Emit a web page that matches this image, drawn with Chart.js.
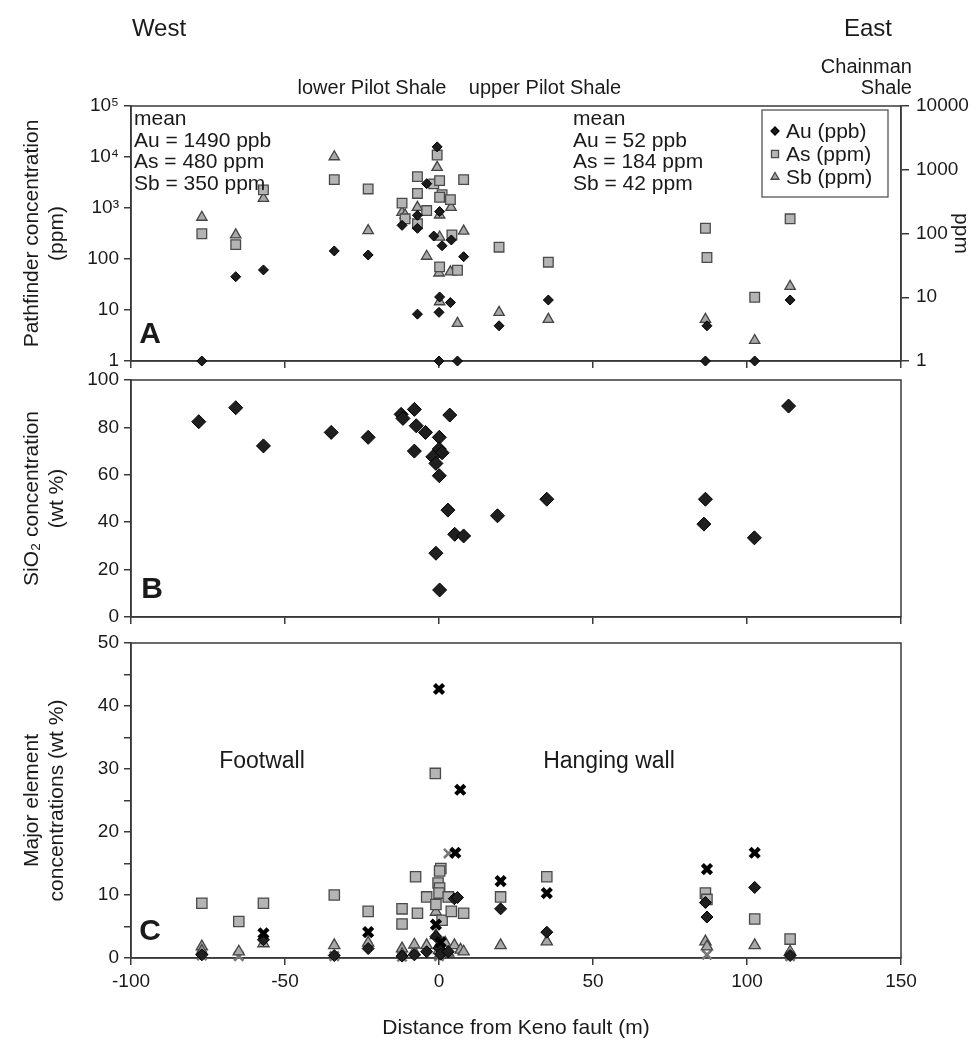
<!DOCTYPE html>
<html>
<head>
<meta charset="utf-8">
<title>Keno fault geochemistry profile</title>
<script src="https://cdn.jsdelivr.net/npm/chart.js@4.4.1/dist/chart.umd.min.js"></script>
<style>
  body { margin: 0; background: #fff; }
  #page { position: relative; width: 977px; height: 1050px; overflow: hidden;
          font-family: "Liberation Sans", Arial, sans-serif; color: #1a1a1a; }
  canvas { position: absolute; left: 0; }
  .t { position: absolute; white-space: nowrap; line-height: 1; }
  .c { transform: translate(-50%, -50%); }
  .r { transform: translateY(-50%); text-align: right; }
  .panel-tag { font-weight: bold; font-size: 30px; }
</style>
</head>
<body>
<div id="page">
  <canvas id="chartA" width="977" height="380" style="top:0"></canvas>
  <canvas id="chartB" width="977" height="279" style="top:361px"></canvas>
  <canvas id="chartC" width="977" height="433" style="top:617px"></canvas>

  <div class="t c" style="left:159px;top:28px;font-size:24px">West</div>
  <div class="t c" style="left:868px;top:28px;font-size:24px">East</div>
  <div class="t c" style="left:372px;top:87px;font-size:20px">lower Pilot Shale</div>
  <div class="t c" style="left:545px;top:87px;font-size:20px">upper Pilot Shale</div>
  <div class="t r" style="right:65px;top:66px;font-size:20px">Chainman</div>
  <div class="t r" style="right:65px;top:87px;font-size:20px">Shale</div>

  <div class="t" style="left:134px;top:107px;font-size:21px;line-height:21.5px">mean<br>Au = 1490 ppb<br>As = 480 ppm<br>Sb = 350 ppm</div>
  <div class="t" style="left:573px;top:107px;font-size:21px;line-height:21.5px">mean<br>Au = 52 ppb<br>As = 184 ppm<br>Sb = 42 ppm</div>

  <div class="t c panel-tag" style="left:150px;top:333px">A</div>
  <div class="t c panel-tag" style="left:152px;top:588px">B</div>
  <div class="t c panel-tag" style="left:150px;top:930px">C</div>

  <div class="t c" style="left:262px;top:760px;font-size:23px">Footwall</div>
  <div class="t c" style="left:609px;top:760px;font-size:23px">Hanging wall</div>
</div>

<script>
// distance from the Keno fault (m), shared by all three panels
const distanceTicks = [-100, -50, 0, 50, 100, 150];

// panel A: pathfinder elements
const auDist = [-77, -66, -57, -34, -23, -12, -7, -7, -7, -4, -0.6, 0.2, -1.7, 1, 0.2, 0, 3.7, 4, 8, 0, 6, 19.5, 35.5, 87, 86.5, 102.5, 114];
const auPpb  = [1, 45, 61, 144, 120, 457, 720, 400, 8.3, 3000, 15800, 850, 282, 182, 18, 9, 14, 236, 111, 1, 1, 4.9, 15.7, 4.9, 1, 1, 15.7];
const asDist = [-77, -66, -57, -34, -23, -12, -11, -7, -7, -7, -4, -1.7, -0.6, 0.2, 1, 0.2, 3.7, 4.2, 0.2, 6, 8, 19.5, 35.5, 86.5, 87, 102.5, 114];
const asPpm  = [99, 67, 483, 700, 500, 300, 170, 780, 425, 142, 229, 600, 1700, 675, 405, 370, 340, 95, 30, 26.5, 700, 61, 35.5, 121, 42, 10, 170];
const sbDist = [-77, -66, -57, -34, -23, -12, -11, -7, -4, -0.6, 0.2, 0.2, 0, 3.7, 0.2, 6, 3.9, 8, 19.5, 35.5, 86.5, 102.5, 114];
const sbPpm  = [180, 95, 355, 1600, 111, 215, 195, 257, 44, 1090, 195, 88, 24, 25, 8.5, 3.9, 257, 109, 5.8, 4.5, 4.5, 2.1, 14.8];
const leftLogLabels  = ['1', '10', '100', '10³', '10⁴', '10⁵'];
const rightLogLabels = ['1', '10', '100', '1000', '10000'];

// panel B: silica
const siDist = [-78, -66, -57, -35, -23, -12.3, -11.7, -8, -7.4, -8, -4.4, 0.1, 0.1, 1, -2, -1, 0.1, 3.5, 2.9, 5.1, 8, -1, 0.2, 19, 35, 86.5, 86, 102.4, 113.5];
const siWt   = [82.4, 88.3, 72.2, 77.9, 75.8, 85.5, 83.8, 87.6, 80.7, 70, 77.9, 75.8, 70.9, 69.3, 67.6, 64.8, 59.6, 85.2, 45.1, 34.9, 34.2, 26.9, 11.4, 42.7, 49.7, 49.7, 39.2, 33.4, 89];

// panel C: major elements
const mgDist = [-77, -57, -34, -23, -12, -8, -4, -1, 0, 0.5, 3, 5, 6, 20, 35, 86.5, 87, 102.5, 114];
const mgWt   = [0.5, 2.9, 0.4, 1.5, 0.3, 0.5, 1.0, 3.4, 1.6, 0.6, 1.0, 9.4, 9.6, 7.8, 4.1, 8.8, 6.5, 11.2, 0.4];
const alDist = [-77, -65, -57, -34, -23, -12, -12, -7.6, -7, -4, -1.2, 0.6, 0.2, -0.3, 0.2, 0, -1, 1, 3, 4, 8, 20, 35, 86.5, 87, 102.5, 114];
const alWt   = [8.7, 5.8, 8.7, 10, 7.4, 7.8, 5.4, 12.9, 7.1, 9.7, 29.3, 14.2, 13.8, 11.9, 11.1, 10.3, 8.5, 6.0, 9.7, 7.4, 7.1, 9.7, 12.9, 10.3, 9.3, 6.2, 3.0];
const kDist  = [-77, -77, -65, -57, -34, -23, -12, -12, -8, -8, -4, -1, -1, 0, 0, 0.5, 2, 3, 5, 7, 8, 20, 35, 86.5, 87, 102.5, 114];
const kWt    = [1.8, 1.1, 1.0, 2.3, 2.0, 2.4, 1.5, 0.6, 1.0, 2.1, 2.0, 7.3, 3.6, 2.0, 1.2, 0.5, 2.4, 0.8, 2.0, 1.3, 1.0, 2.0, 2.6, 2.6, 1.8, 2.0, 1.0];
const caDist = [-57, -23, 0, -1, 0.5, 5.3, 6.9, 20, 35, 87, 102.5];
const caWt   = [3.9, 4.1, 42.7, 5.3, 2.5, 16.7, 26.7, 12.2, 10.3, 14.1, 16.7];
const grayCrossDist = [-77, -65, -34, -12, 0, 0, 3.1, 87, 114];
const grayCrossWt   = [0.4, 0.3, 0.3, 0.2, 0.3, 0.8, 16.6, 0.5, 0.3];

const axisColor = '#3a3a3a';
const textColor = '#1a1a1a';
const fontFamily = '"Liberation Sans", Arial, sans-serif';
Chart.defaults.font.family = fontFamily;
Chart.defaults.color = textColor;

const pts = (xs, ys) => xs.map((x, i) => ({ x: x, y: ys[i] }));
const tickFont = { size: 19 };
const titleFont = { size: 21 };

// box round each plot area
const frame = {
  id: 'frame',
  beforeDatasetsDraw(chart) {
    const { ctx, chartArea: a } = chart;
    ctx.save();
    ctx.strokeStyle = axisColor;
    ctx.lineWidth = 1.5;
    ctx.strokeRect(a.left, a.top, a.width, a.height);
    ctx.restore();
  }
};

// boxed legend placed inside the plot
function boxLegend(box, rows) {
  return {
    id: 'boxLegend',
    afterDatasetsDraw(chart) {
      const ctx = chart.ctx;
      ctx.save();
      ctx.fillStyle = '#fff';
      ctx.fillRect(box.x, box.y, box.w, box.h);
      ctx.strokeStyle = '#555';
      ctx.lineWidth = 1.3;
      ctx.strokeRect(box.x, box.y, box.w, box.h);
      ctx.font = box.font;
      ctx.textBaseline = 'middle';
      rows.forEach((r, i) => {
        const ds = chart.data.datasets[r.ds];
        const y = box.rowY[i];
        ctx.fillStyle = ds.backgroundColor;
        ctx.strokeStyle = ds.borderColor;
        Chart.helpers.drawPoint(ctx, {
          pointStyle: ds.pointStyle, radius: r.radius,
          borderWidth: r.borderWidth, rotation: 0
        }, box.symX, y);
        ctx.fillStyle = textColor;
        ctx.fillText(ds.label, box.textX, y + 1);
      });
      ctx.restore();
    }
  };
}

function distanceAxis(height, extra) {
  return Object.assign({
    type: 'linear', min: -100, max: 150,
    afterBuildTicks: s => { s.ticks = distanceTicks.map(v => ({ value: v })); },
    afterFit: s => { s.height = height; },
    border: { color: axisColor, width: 1.5 },
    grid: { drawOnChartArea: false, tickLength: 7, color: axisColor, lineWidth: 1.5 },
    ticks: { display: false }
  }, extra || {});
}

function leftAxis(extra) {
  return Object.assign({
    position: 'left',
    afterFit: s => { s.width = 131; },
    border: { color: axisColor, width: 1.5 },
    grid: { drawOnChartArea: false, tickLength: 7, color: axisColor, lineWidth: 1.5 }
  }, extra);
}

const common = {
  responsive: false,
  animation: false,
  events: [],
  plugins: { legend: { display: false }, tooltip: { enabled: false } }
};

// A: Au (ppb) on the left log axis, As and Sb (ppm) on the right log axis
new Chart(document.getElementById('chartA'), {
  type: 'scatter',
  data: {
    datasets: [
      { label: 'Au (ppb)', data: pts(auDist, auPpb), yAxisID: 'y',
        pointStyle: 'rectRot', pointRadius: 5, backgroundColor: '#1c1c1c', borderColor: '#000', borderWidth: 1, clip: false },
      { label: 'As (ppm)', data: pts(asDist, asPpm), yAxisID: 'y2',
        pointStyle: 'rect', pointRadius: 6.8, backgroundColor: '#b4b4b4', borderColor: '#4a4a4a', borderWidth: 1.3, clip: false },
      { label: 'Sb (ppm)', data: pts(sbDist, sbPpm), yAxisID: 'y2',
        pointStyle: 'triangle', pointRadius: 6, backgroundColor: '#a8a8a8', borderColor: '#444', borderWidth: 1.3, clip: false }
    ]
  },
  options: Object.assign({}, common, {
    layout: { padding: { top: 106, left: 0, right: 0, bottom: 0 } },
    scales: {
      x: distanceAxis(19),
      y: leftAxis({
        type: 'logarithmic', min: 1, max: 100000,
        afterBuildTicks: s => { s.ticks = leftLogLabels.map((_, i) => ({ value: Math.pow(10, i) })); },
        ticks: { font: tickFont, color: textColor, padding: 5, autoSkip: false,
                 callback: v => leftLogLabels[Math.round(Math.log10(v))] },
        title: { display: true, text: ['Pathfinder concentration', '(ppm)'], font: titleFont,
                 color: textColor, padding: { top: 19.4, bottom: 0 } }
      }),
      y2: {
        type: 'logarithmic', position: 'right', min: 1, max: 10000,
        afterFit: s => { s.width = 76; },
        afterBuildTicks: s => { s.ticks = rightLogLabels.map((_, i) => ({ value: Math.pow(10, i) })); },
        border: { color: axisColor, width: 1.5 },
        grid: { drawOnChartArea: false, tickLength: 8, color: axisColor, lineWidth: 1.5 },
        ticks: { font: tickFont, color: textColor, padding: 7, autoSkip: false,
                 callback: v => rightLogLabels[Math.round(Math.log10(v))] },
        title: { display: true, text: 'ppm', font: titleFont, color: textColor, padding: { top: 3.5, bottom: 0 } }
      }
    }
  }),
  plugins: [frame, boxLegend(
    { x: 762, y: 110, w: 126, h: 87, rowY: [131, 154, 177], symX: 775, textX: 786, font: '21px ' + fontFamily },
    [{ ds: 0, radius: 4, borderWidth: 1 }, { ds: 1, radius: 5, borderWidth: 1.2 }, { ds: 2, radius: 4.5, borderWidth: 1.2 }]
  )]
});

// B: SiO2
new Chart(document.getElementById('chartB'), {
  type: 'scatter',
  data: {
    datasets: [
      { label: 'SiO2', data: pts(siDist, siWt), pointStyle: 'rectRot', pointRadius: 7,
        backgroundColor: '#1f1f1f', borderColor: '#000', borderWidth: 1, clip: false }
    ]
  },
  options: Object.assign({}, common, {
    layout: { padding: { top: 19, left: 0, right: 76, bottom: 0 } },
    scales: {
      x: distanceAxis(23),
      y: leftAxis({
        type: 'linear', min: 0, max: 100,
        ticks: { stepSize: 20, font: tickFont, color: textColor, padding: 5 },
        title: { display: true, text: ['SiO₂ concentration', '(wt %)'], font: titleFont,
                 color: textColor, padding: { top: 19.4, bottom: 0 } }
      })
    }
  }),
  plugins: [frame]
});

// C: major element oxides
new Chart(document.getElementById('chartC'), {
  type: 'scatter',
  data: {
    datasets: [
      { label: 'CaO  (%)', data: pts(caDist, caWt), pointStyle: 'crossRot', pointRadius: 6.5,
        backgroundColor: '#000', borderColor: '#000', borderWidth: 4.2, clip: false },
      { label: 'MgO  (%)', data: pts(mgDist, mgWt), pointStyle: 'rectRot', pointRadius: 6,
        backgroundColor: '#1f1f1f', borderColor: '#000', borderWidth: 1, clip: false },
      { label: 'Al2O3 (%)', data: pts(alDist, alWt), pointStyle: 'rect', pointRadius: 7.3,
        backgroundColor: '#b4b4b4', borderColor: '#4a4a4a', borderWidth: 1.3, clip: false },
      { label: 'K2O  (%)', data: pts(kDist, kWt), pointStyle: 'triangle', pointRadius: 6.5,
        backgroundColor: '#a8a8a8', borderColor: '#444', borderWidth: 1.3, clip: false },
      { label: '', data: pts(grayCrossDist, grayCrossWt), pointStyle: 'crossRot', pointRadius: 6.5,
        backgroundColor: '#777', borderColor: '#777', borderWidth: 2.6, clip: false }
    ]
  },
  options: Object.assign({}, common, {
    layout: { padding: { top: 26, left: 0, right: 76, bottom: 0 } },
    scales: {
      x: distanceAxis(92, {
        ticks: { display: true, font: tickFont, color: textColor, padding: 5 },
        title: { display: true, text: 'Distance from Keno fault (m)', font: titleFont,
                 color: textColor, padding: { top: 0, bottom: 9.4 } }
      }),
      y: leftAxis({
        type: 'linear', min: 0, max: 50,
        ticks: { stepSize: 5, font: tickFont, color: textColor, padding: 5, autoSkip: false,
                 callback: v => (v % 10 === 0 ? v : '') },
        title: { display: true, text: ['Major element', 'concentrations (wt %)'], font: titleFont,
                 color: textColor, padding: { top: 19.4, bottom: 0 } }
      })
    }
  }),
  plugins: [frame, boxLegend(
    { x: 752, y: 653, w: 136, h: 125, rowY: [678, 705, 733, 762], symX: 767, textX: 778, font: '22px ' + fontFamily },
    [{ ds: 1, radius: 6.5, borderWidth: 1 }, { ds: 2, radius: 7.5, borderWidth: 1.2 },
     { ds: 3, radius: 7, borderWidth: 1.2 }, { ds: 0, radius: 5, borderWidth: 3.6 }]
  )]
});
</script>
</body>
</html>
